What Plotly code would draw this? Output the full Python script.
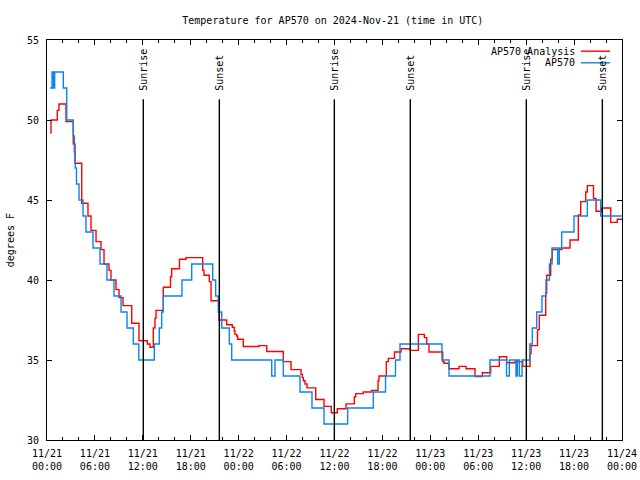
import pandas as pd
import plotly.graph_objects as go

# ---- data (hours after 2024-11-21 00:00 UTC, temperature in F) ----
analysis_hours = [0.38, 0.50, 1.29, 1.50, 2.38, 3.29, 3.51, 4.35, 5.13, 5.51, 6.14, 6.76, 7.14,
                  7.76, 8.01, 8.64, 9.02, 9.52, 10.61, 11.52, 12.56, 12.90, 13.31, 13.52, 13.65,
                  14.56, 15.46, 15.61, 16.59, 17.41, 19.50, 19.66, 20.32, 20.54, 21.54, 22.50,
                  23.20, 23.45, 23.54, 23.75, 23.88, 24.58, 26.55, 27.51, 29.59, 30.55, 31.81,
                  31.97, 32.09, 32.31, 32.56, 33.65, 34.69, 35.60, 36.35, 37.44, 38.48, 38.66,
                  39.61, 40.66, 41.45, 41.57, 42.49, 42.74, 43.51, 44.33, 45.46, 46.50, 47.25,
                  47.55, 47.83, 49.55, 49.71, 50.34, 51.59, 52.47, 53.59, 54.51, 55.56, 56.64,
                  57.56, 58.60, 59.57, 60.48, 60.61, 61.42, 61.65, 62.45, 62.57, 63.07, 63.27,
                  64.45, 65.49, 66.53, 66.83, 67.46, 67.66, 68.43, 68.75, 69.46, 70.59, 71.41, 72.0]
analysis_temp = [49.2, 50.0, 50.6, 51.0, 49.9, 48.5, 47.3, 44.8, 44.0, 43.1, 42.4, 41.9, 41.0,
                 40.6, 40.0, 39.4, 38.9, 38.4, 37.3, 36.2, 36.0, 35.8, 37.0, 37.6, 38.1,
                 39.55, 40.2, 40.7, 41.3, 41.4, 40.6, 40.3, 39.9, 38.7, 37.5, 37.2,
                 37.05, 36.8, 36.6, 36.5, 36.3, 35.84, 35.9, 35.53, 34.9, 34.4, 34.1,
                 33.9, 33.7, 33.5, 33.26, 32.53, 32.1, 31.7, 31.95, 32.26, 32.7, 32.9,
                 33.0, 33.1, 33.7, 34.0, 34.9, 35.1, 35.5, 35.7, 35.6, 36.6, 36.4,
                 36.0, 35.5, 34.9, 34.8, 34.45, 34.6, 34.45, 33.97, 34.2, 34.6, 35.2,
                 34.83, 34.9, 34.6, 35.4, 35.9, 36.9, 37.8, 39.2, 40.3, 41.3, 41.9,
                 42.0, 42.5, 44.06, 44.9, 45.5, 45.9, 45.1, 44.3, 44.5, 43.6, 43.8, 43.8]

obs_hours = [0.38, 0.63, 0.81, 0.96, 2.04, 2.47, 3.29, 3.42, 3.54, 3.69, 4.01, 4.51, 4.88,
             5.76, 6.64, 7.51, 8.39, 9.27, 10.02, 10.81, 11.50, 13.44, 14.06, 14.36, 14.56,
             16.90, 18.12, 20.75, 21.12, 21.45, 21.88, 22.83, 23.13, 28.14, 28.55, 29.59,
             31.68, 33.18, 34.69, 37.65, 40.86, 42.39, 43.64, 44.20, 49.46, 50.34, 55.47,
             57.54, 57.89, 58.73, 58.89, 59.14, 59.48, 60.46, 60.77, 61.32, 61.98, 62.48,
             62.92, 63.24, 63.95, 64.15, 64.45, 65.99, 67.66, 69.33, 72.0]
obs_temp = [52, 53, 52, 53, 52, 50, 49, 48, 47, 46, 45, 44, 43,
            42, 41, 40, 39, 38, 37, 36, 35, 36, 37, 38, 39,
            40, 41, 40, 39, 38, 37, 36, 35, 34, 35, 34,
            33, 32, 31, 32, 33, 34, 35, 36, 35, 34, 35,
            34, 35, 34, 35, 34, 35, 36, 37, 38, 39, 40,
            41, 42, 41, 42, 43, 44, 45, 44, 44]

event_labels = ["Sunrise", "Sunset", "Sunrise", "Sunset", "Sunrise", "Sunset"]
event_hours = [12.06, 21.58, 35.98, 45.49, 60.02, 69.54]

start = pd.Timestamp("2024-11-21 00:00")
def to_time(hours):
    return [start + pd.to_timedelta(h, unit="h") for h in hours]

FONT = "DejaVu Sans Mono"
RED = "#ff0000"
BLUE = "#0a84f0"

fig = go.Figure()
fig.add_trace(go.Scatter(x=to_time(analysis_hours), y=analysis_temp, mode="lines",
                         line=dict(color=RED, width=1.4, shape="hv"),
                         name="AP570 Analysis", showlegend=False, hoverinfo="skip"))
fig.add_trace(go.Scatter(x=to_time(obs_hours), y=obs_temp, mode="lines",
                         line=dict(color=BLUE, width=1.4, shape="hv"),
                         name="AP570", showlegend=False, hoverinfo="skip"))

for lab, h in zip(event_labels, event_hours):
    t = start + pd.to_timedelta(h, unit="h")
    fig.add_shape(type="line", xref="x", yref="y", x0=t, x1=t, y0=30, y1=51.3,
                  line=dict(color="black", width=1.4))
    fig.add_annotation(x=t, y=51.72, xref="x", yref="y", text=lab, textangle=-90,
                       showarrow=False, xanchor="center", yanchor="bottom",
                       font=dict(family=FONT, size=10, color="black"))

# legend (gnuplot style: text then sample line)
legend_items = [("AP570 Analysis", RED, 0.972), ("AP570", BLUE, 0.943)]
for txt, col, yp in legend_items:
    fig.add_annotation(x=0.921, y=yp, xref="paper", yref="paper", text=txt,
                       showarrow=False, xanchor="right", yanchor="middle",
                       font=dict(family=FONT, size=10, color="black"))
    fig.add_shape(type="line", xref="paper", yref="paper", x0=0.9287, x1=0.9791,
                  y0=yp, y1=yp, line=dict(color=col, width=1.4))

fig.add_annotation(x=-0.064, y=0.5, xref="paper", yref="paper", text="degrees F",
                   textangle=-90, showarrow=False, xanchor="center", yanchor="middle",
                   font=dict(family=FONT, size=10, color="black"))

fig.update_layout(
    width=640, height=480, autosize=False,
    margin=dict(l=47, r=18, t=40, b=40, autoexpand=False),
    paper_bgcolor="white", plot_bgcolor="white",
    font=dict(family=FONT, size=10, color="black"),
    title=dict(text="Temperature for AP570 on 2024-Nov-21 (time in UTC)",
               x=0.52, xanchor="center", y=0.958, yanchor="middle",
               font=dict(family=FONT, size=10, color="black")),
    showlegend=False,
    hovermode=False,
)
fig.update_xaxes(
    type="date",
    range=[start, start + pd.Timedelta(hours=72)],
    tick0=start, dtick=6 * 3600 * 1000, tickformat="%m/%d<br>%H:%M",
    ticks="inside", ticklen=5, tickcolor="black", tickwidth=1,
    minor=dict(dtick=2 * 3600 * 1000, ticks="inside", ticklen=3, tickcolor="black"),
    showline=True, linecolor="black", linewidth=1, mirror="allticks",
    showgrid=False, zeroline=False, ticklabelstandoff=4, automargin=False,
    tickfont=dict(family=FONT, size=10, color="black"),
)
fig.update_yaxes(
    range=[30, 55], tick0=30, dtick=5,
    ticks="inside", ticklen=5, tickcolor="black", tickwidth=1,
    showline=True, linecolor="black", linewidth=1, mirror="allticks",
    showgrid=False, zeroline=False, ticklabelstandoff=5, automargin=False,
    tickfont=dict(family=FONT, size=10, color="black"),
)

post = ("document.body.style.margin='0';document.body.style.overflow='hidden';"
        "Plotly.relayout(document.getElementById('{plot_id}'), {width:640, height:480});")
fig.write_html("out.html", config={"responsive": False, "displayModeBar": False},
               post_script=post)
